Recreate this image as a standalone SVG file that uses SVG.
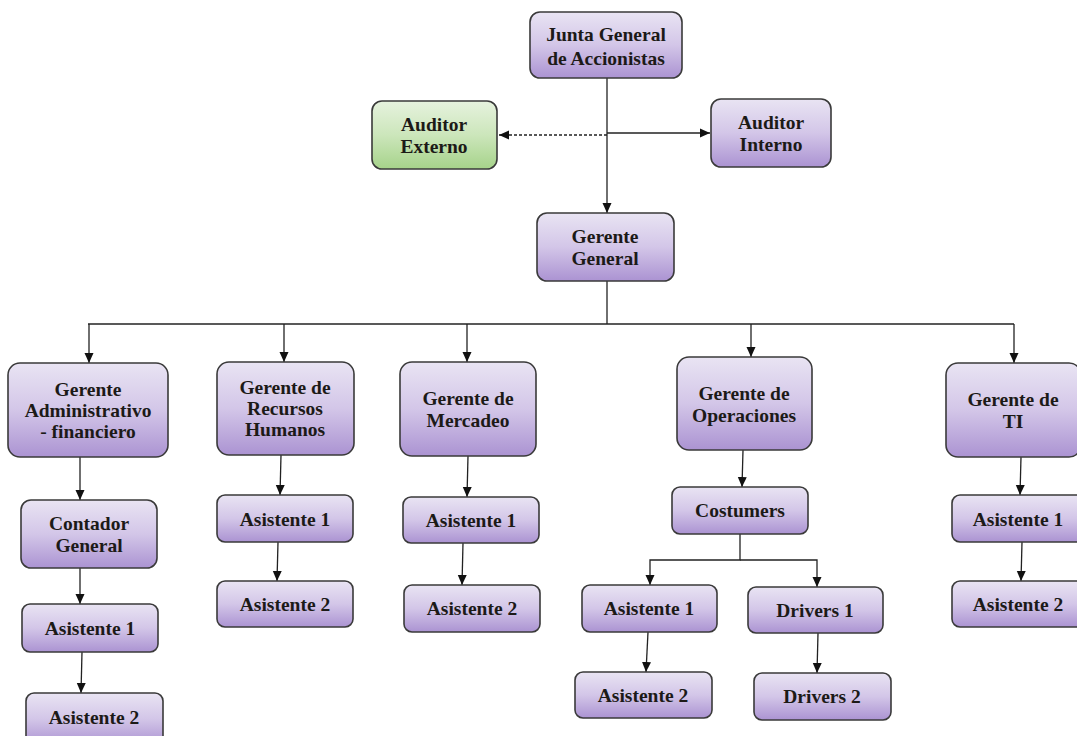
<svg xmlns="http://www.w3.org/2000/svg" width="1077" height="736" viewBox="0 0 1077 736">
<defs>
<linearGradient id="gp" x1="0" y1="0" x2="0" y2="1">
<stop offset="0" stop-color="#e9e4f3"/>
<stop offset="0.5" stop-color="#d3c6e8"/>
<stop offset="1" stop-color="#ab93d2"/>
</linearGradient>
<linearGradient id="gg" x1="0" y1="0" x2="0" y2="1">
<stop offset="0" stop-color="#e6f2de"/>
<stop offset="0.5" stop-color="#cce6bb"/>
<stop offset="1" stop-color="#a6d38a"/>
</linearGradient>
<marker id="ah" markerUnits="userSpaceOnUse" markerWidth="10" markerHeight="10" viewBox="0 0 10 10" refX="10" refY="5" orient="auto">
<path d="M0,0.5 L10,5 L0,9.5 Z" fill="#111"/>
</marker>
<style>
.n rect{fill:url(#gp);stroke:#3a3a3a;stroke-width:1.6}
.n.g rect{fill:url(#gg)}
.n text{font-family:"Liberation Serif","Times New Roman",serif;font-weight:bold;font-size:19.5px;fill:#1c1a17;text-anchor:middle}
#connectors line,#connectors polyline{stroke:#222;stroke-width:1.3;fill:none}
#connectors .a{marker-end:url(#ah)}
#connectors .d{stroke-dasharray:3,2}
</style>
</defs>
<rect width="1077" height="736" fill="#fff"/>
<g id="connectors">
<line x1="607" y1="78" x2="607" y2="213" class="a"/>
<line x1="607" y1="135" x2="499" y2="135" class="a d"/>
<line x1="607" y1="133" x2="710" y2="133" class="a"/>
<line x1="607" y1="281" x2="607" y2="324"/>
<line x1="88" y1="324" x2="1014" y2="324"/>
<line x1="89" y1="324" x2="89" y2="363" class="a"/>
<line x1="284" y1="324" x2="284" y2="362" class="a"/>
<line x1="467" y1="324" x2="467" y2="362" class="a"/>
<line x1="751" y1="324" x2="751" y2="357" class="a"/>
<line x1="1014" y1="324" x2="1014" y2="363" class="a"/>
<line x1="80" y1="457" x2="80" y2="500" class="a"/>
<line x1="80" y1="568" x2="80" y2="604" class="a"/>
<line x1="82" y1="652" x2="81" y2="693" class="a"/>
<line x1="281" y1="455" x2="280" y2="495" class="a"/>
<line x1="278" y1="542" x2="277" y2="581" class="a"/>
<line x1="468" y1="456" x2="467" y2="497" class="a"/>
<line x1="463" y1="543" x2="462" y2="585" class="a"/>
<line x1="743" y1="450" x2="742" y2="487" class="a"/>
<polyline points="740,534 740,560 650,560 650,585" class="a"/>
<polyline points="740,560 817,560 817,587" class="a"/>
<line x1="648" y1="632" x2="646" y2="672" class="a"/>
<line x1="818" y1="633" x2="817" y2="673" class="a"/>
<line x1="1021" y1="457" x2="1020" y2="495" class="a"/>
<line x1="1022" y1="542" x2="1021" y2="581" class="a"/>
</g>
<g id="n-junta" class="n"><rect x="530" y="12" width="152" height="66" rx="10"/><text x="606" y="41">Junta General</text><text x="606" y="65">de Accionistas</text></g>
<g id="n-audext" class="n g"><rect x="372" y="101" width="125" height="68" rx="10"/><text x="434" y="131">Auditor</text><text x="434" y="153">Externo</text></g>
<g id="n-audint" class="n"><rect x="711" y="99" width="120" height="68" rx="10"/><text x="771" y="129">Auditor</text><text x="771" y="151">Interno</text></g>
<g id="n-gg" class="n"><rect x="537" y="213" width="137" height="68" rx="10"/><text x="605" y="243">Gerente</text><text x="605" y="265">General</text></g>
<g id="n-admin" class="n"><rect x="8" y="363" width="160" height="94" rx="12"/><text x="88" y="396">Gerente</text><text x="88" y="417">Administrativo</text><text x="88" y="438">- financiero</text></g>
<g id="n-rrhh" class="n"><rect x="217" y="362" width="137" height="93" rx="12"/><text x="285" y="394">Gerente de</text><text x="285" y="415">Recursos</text><text x="285" y="436">Humanos</text></g>
<g id="n-merc" class="n"><rect x="400" y="362" width="136" height="94" rx="12"/><text x="468" y="405">Gerente de</text><text x="468" y="427">Mercadeo</text></g>
<g id="n-ops" class="n"><rect x="677" y="357" width="135" height="93" rx="12"/><text x="744" y="400">Gerente de</text><text x="744" y="422">Operaciones</text></g>
<g id="n-ti" class="n"><rect x="946" y="363" width="135" height="94" rx="12"/><text x="1013" y="406">Gerente de</text><text x="1013" y="428">TI</text></g>
<g id="n-contador" class="n"><rect x="21" y="500" width="136" height="68" rx="10"/><text x="89" y="530">Contador</text><text x="89" y="552">General</text></g>
<g id="n-adm-a1" class="n"><rect x="22" y="604" width="136" height="48" rx="8"/><text x="90" y="635">Asistente 1</text></g>
<g id="n-adm-a2" class="n"><rect x="26" y="693" width="137" height="52" rx="8"/><text x="94" y="724">Asistente 2</text></g>
<g id="n-rrhh-a1" class="n"><rect x="217" y="495" width="136" height="47" rx="8"/><text x="285" y="526">Asistente 1</text></g>
<g id="n-rrhh-a2" class="n"><rect x="217" y="581" width="136" height="46" rx="8"/><text x="285" y="611">Asistente 2</text></g>
<g id="n-merc-a1" class="n"><rect x="403" y="497" width="136" height="46" rx="8"/><text x="471" y="527">Asistente 1</text></g>
<g id="n-merc-a2" class="n"><rect x="404" y="585" width="136" height="47" rx="8"/><text x="472" y="615">Asistente 2</text></g>
<g id="n-cost" class="n"><rect x="672" y="487" width="136" height="47" rx="8"/><text x="740" y="517">Costumers</text></g>
<g id="n-ops-a1" class="n"><rect x="582" y="585" width="135" height="47" rx="8"/><text x="649" y="615">Asistente 1</text></g>
<g id="n-ops-a2" class="n"><rect x="575" y="672" width="137" height="46" rx="8"/><text x="643" y="702">Asistente 2</text></g>
<g id="n-drv1" class="n"><rect x="748" y="587" width="135" height="46" rx="8"/><text x="815" y="617">Drivers 1</text></g>
<g id="n-drv2" class="n"><rect x="754" y="673" width="137" height="47" rx="8"/><text x="822" y="703">Drivers 2</text></g>
<g id="n-ti-a1" class="n"><rect x="952" y="495" width="134" height="47" rx="8"/><text x="1018" y="526">Asistente 1</text></g>
<g id="n-ti-a2" class="n"><rect x="952" y="581" width="134" height="46" rx="8"/><text x="1018" y="611">Asistente 2</text></g>
</svg>
